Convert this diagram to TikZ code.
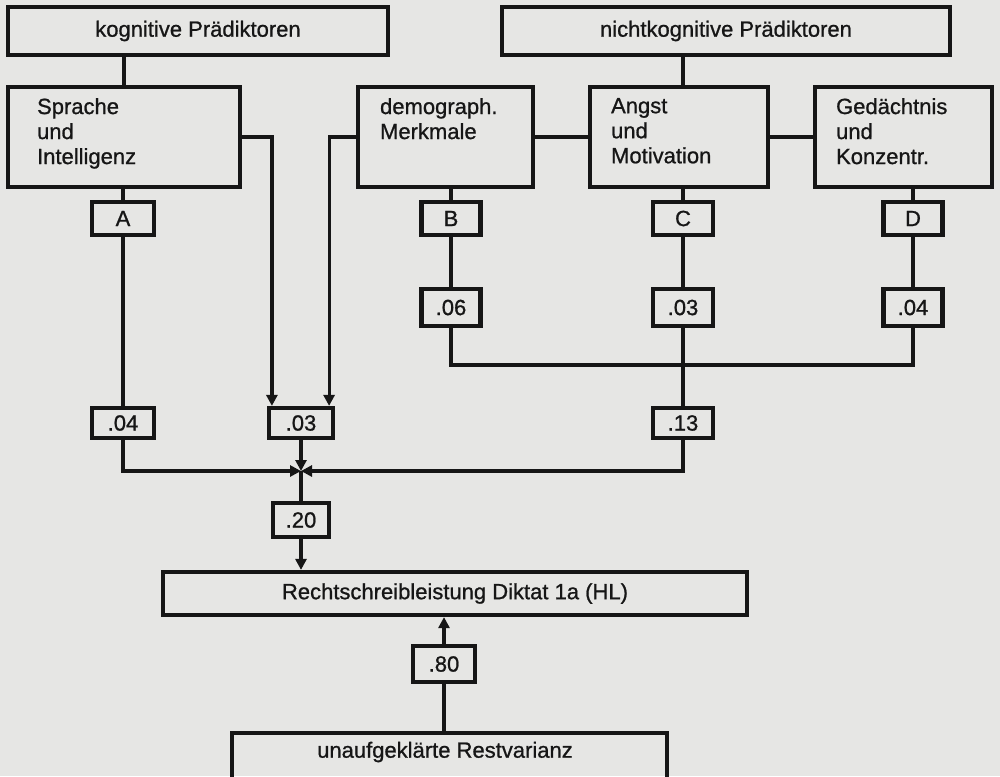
\documentclass[tikz,border=0pt]{standalone}
\usepackage{fontspec}
\setmainfont{Liberation Sans}
\newfontfamily\dfam{Liberation Sans}[BoldFont={Liberation Sans},BoldFeatures={FakeBold=0.9}]
\usetikzlibrary{arrows.meta,calc}
\definecolor{paper}{RGB}{230,230,228}
\definecolor{ink}{RGB}{22,22,22}
\newcommand\dfont{\dfam\bfseries\fontsize{22}{25}\selectfont}
\begin{document}
\begin{tikzpicture}[x=1pt,y=-1pt,
  box/.style={draw=ink, line width=4.2pt, rectangle, inner sep=0pt, font=\dfont, text=ink},
  lbl/.style={font=\dfont, text=ink, inner sep=0pt, align=left},
  conn/.style={draw=ink, line width=3.2pt},
  arr/.style={conn, -{Triangle[length=11pt,width=11pt]}},
]
\fill[paper] (0,0) rectangle (1000,776);
\useasboundingbox (0,0) rectangle (1000,776);
\clip (0,0) rectangle (1000,776);

% top boxes
\node[box, minimum width=380pt, minimum height=48pt] (kog) at (198,31) {kognitive Prädiktoren};
\node[box, minimum width=448pt, minimum height=48pt] (nkog) at (726,31) {nichtkognitive Prädiktoren};

% second row
\node[box, minimum width=232pt, minimum height=100pt] (spr) at (124,137) {};
\node[lbl, anchor=north west] (sprt) at ($(spr.north west)+(31,13)$) {Sprache\\und\\Intelligenz};
\node[box, minimum width=175pt, minimum height=100pt] (dem) at (445.5,137) {};
\node[lbl, anchor=north west] (demt) at ($(dem.north west)+(24,13)$) {demograph.\\Merkmale};
\node[box, minimum width=178pt, minimum height=100pt] (ang) at (679,137) {};
\node[lbl, anchor=north west] (angt) at ($(ang.north west)+(23,13)$) {Angst\\und\\Motivation};
\node[box, minimum width=177pt, minimum height=100pt] (ged) at (903.5,137) {};
\node[lbl, anchor=north west] (gedt) at ($(ged.north west)+(23,13)$) {Gedächtnis\\und\\Konzentr.};

% letter boxes
\node[box, minimum width=62pt, minimum height=33pt] (A) at (123,218.5) {A};
\node[box, minimum width=59pt, minimum height=33pt] (B) at (451,218.5) {B};
\node[box, minimum width=60pt, minimum height=33pt] (C) at (683,218.5) {C};
\node[box, minimum width=59pt, minimum height=33pt] (D) at (913,218.5) {D};

% coefficient boxes
\node[box, minimum width=59pt, minimum height=37pt] (n06) at (451,307.5) {.06};
\node[box, minimum width=60pt, minimum height=37pt] (n03c) at (683,307.5) {.03};
\node[box, minimum width=59pt, minimum height=37pt] (n04d) at (913,307.5) {.04};
\node[box, minimum width=62pt, minimum height=30pt] (n04a) at (123,423) {.04};
\node[box, minimum width=64pt, minimum height=30pt] (n03l) at (301,423) {.03};
\node[box, minimum width=60pt, minimum height=30pt] (n13) at (683,423) {.13};
\node[box, minimum width=56pt, minimum height=34pt] (n20) at (301,520) {.20};
\node[box, minimum width=62pt, minimum height=36pt] (n80) at (444,664) {.80};

% bottom boxes
\node[box, minimum width=584pt, minimum height=43pt] (rs) at (455,593.5) {Rechtschreibleistung Diktat 1a (HL)};
\node[box, minimum width=435pt, minimum height=50pt] (un) at (449.5,758) {};
\node[lbl, anchor=center] (unt) at (445,752) {unaufgeklärte Restvarianz};

\coordinate (J) at (301,471);
\coordinate (K) at (683,365);

% connectors
\draw[conn] (spr.north) -- (spr.north |- kog.south);
\draw[conn] (C.north |- ang.north) -- (C.north |- nkog.south);
\draw[conn] (dem.east) -- (ang.west);
\draw[conn] (ang.east) -- (ged.west);
\draw[conn] (A.north) -- (A.north |- spr.south);
\draw[conn] (B.north) -- (B.north |- dem.south);
\draw[conn] (C.north) -- (C.north |- ang.south);
\draw[conn] (D.north) -- (D.north |- ged.south);
\draw[conn] (A.south) -- (n04a.north);
\draw[conn] (B.south) -- (n06.north);
\draw[conn] (C.south) -- (n03c.north);
\draw[conn] (D.south) -- (n04d.north);
\draw[arr] (spr.east) -| ($(n03l.north west)+(5,0)$);
\draw[arr] (dem.west) -| ($(n03l.north east)+(-6,0)$);
\draw[conn] (n06.south) |- (K);
\draw[conn] (n04d.south) |- (K);
\draw[conn] (n03c.south) -- (n13.north);
\draw[arr] (n04a.south) |- (J);
\draw[arr] (n13.south) |- (J);
\draw[arr] (n03l.south) -- (J);
\draw[conn] (J) -- (n20.north);
\draw[arr] (n20.south) -- (n20.south |- rs.north);
\draw[arr] (n80.north) -- (n80.north |- rs.south);
\draw[conn] (n80.south) -- (n80.south |- un.north);
\end{tikzpicture}
\end{document}
